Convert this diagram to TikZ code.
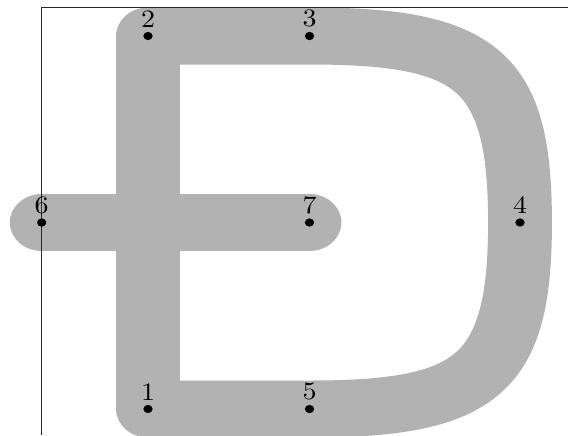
\documentclass[tikz,border=0pt]{standalone}
\begin{document}
\begin{tikzpicture}[x=0.4pt,y=-0.4pt,
  band/.style={draw=black!30,line width=22.8pt,line join=round,line cap=round},
  frameline/.style={draw=black!85,line width=0.45pt},
  dotmark/.style={fill=black},
  ptlabel/.style={above,font=\normalsize}]
\useasboundingbox (0,0) rectangle (568,435);
\begin{scope}[x=0.357143pt,transform canvas={xscale=1.12}]
  \coordinate (p1) at (148,409);
  \coordinate (p2) at (148,36);
  \coordinate (p3) at (309.5,36);
  \coordinate (p4) at (520,222.5);
  \coordinate (p5) at (309.5,409);
  \coordinate (p6) at (41.7,222.5);
  \coordinate (p7) at (309.5,222.5);
  \coordinate (c1) at (478,36);
  \coordinate (c2) at (520,70);
  \coordinate (c3) at (520,375);
  \coordinate (c4) at (478,409);
  \path[band] (p1) -- (p2) -- (p3) .. controls (c1) and (c2) .. (p4)
     .. controls (c3) and (c4) .. (p5) -- cycle;
  \path[band] (p6) -- (p7);
\end{scope}
\coordinate (fa) at (41.3,435);
\coordinate (fo) at (41.3,7.3);
\coordinate (fc) at (568,7.3);
\path[frameline] (fa) -- (fo) -- (fc);
\begin{scope}[x=0.357143pt,transform canvas={xscale=1.12}]
  \foreach \i in {1,...,7} {
    \fill[dotmark] (p\i) circle[radius=1.66pt];
    \node[ptlabel] (l\i) at (p\i) {\i};
  }
\end{scope}
\end{tikzpicture}
\end{document}
